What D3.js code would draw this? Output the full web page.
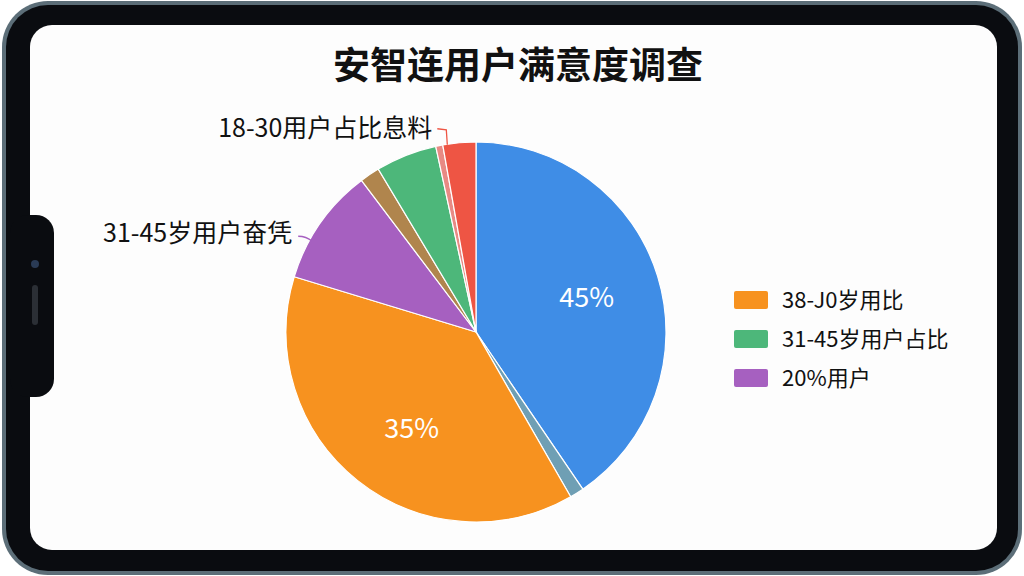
<!DOCTYPE html>
<html><head><meta charset="utf-8">
<script src="https://cdn.jsdelivr.net/npm/d3@7"></script>
<style>body{margin:0;background:#fff}svg{display:block}</style>
</head><body>
<svg id="c" width="1024" height="576"></svg>
<script>
const title = "安智连用户满意度调查";
const sliceNames = ["蓝","灰","橙","紫","棕","绿","粉","红"];
const sliceValues = [40.5, 1.2, 38, 10, 1.7, 5.2, 0.6, 2.8];
const sliceColors = ["#3f8de6","#6f9fb4","#f7921f","#a660c0","#b0854d","#4db77a","#e88a84","#ee5544"];
const innerLabels = ["45%", null, "35%", null, null, null, null, null];
const outerLabels = [null, null, null, "31-45岁用户奋凭", null, null, null, "18-30用户占比息料"];
const legendNames = ["38-J0岁用比", "31-45岁用户占比", "20%用户"];
const legendColors = ["#f7921f", "#4db77a", "#a660c0"];

const svg = d3.select("#c");
// tablet frame
svg.append("rect").attr("x",2).attr("y",1).attr("width",1020).attr("height",574).attr("rx",46)
  .attr("fill","#5c6e78");
svg.append("rect").attr("x",6).attr("y",5).attr("width",1012).attr("height",566).attr("rx",42)
  .attr("fill","#0a0c10");
svg.append("rect").attr("x",30).attr("y",25).attr("width",967).attr("height",525).attr("rx",22)
  .attr("fill","#fdfdfd");
// left notch
svg.append("rect").attr("x",10).attr("y",215).attr("width",44).attr("height",182).attr("rx",18)
  .attr("fill","#0a0c10");
svg.append("circle").attr("cx",35).attr("cy",264).attr("r",4).attr("fill","#2a3b55");
svg.append("rect").attr("x",32).attr("y",285).attr("width",6).attr("height",40).attr("rx",3).attr("fill","#2b2f35");

svg.append("text").attr("x",518).attr("y",79).attr("text-anchor","middle")
  .attr("font-family","Noto Sans CJK SC").attr("font-weight","bold").attr("font-size",37)
  .attr("fill","#111").text(title);

const cx = 476, cy = 332, r = 190;
const g = svg.append("g").attr("transform",`translate(${cx},${cy})`);
const pie = d3.pie().sort(null).value(d=>d)(sliceValues);
const arc = d3.arc().innerRadius(0).outerRadius(r);
g.selectAll("path").data(pie).join("path").attr("d",arc)
  .attr("fill",(d,i)=>sliceColors[i]).attr("stroke","#fff").attr("stroke-width",1.2);

const inArc = d3.arc().innerRadius(r*0.61).outerRadius(r*0.61);
g.selectAll("text.in").data(pie.filter((d,i)=>innerLabels[i])).join("text")
  .attr("class","in")
  .attr("transform",d=>{
    const c = inArc.centroid({startAngle:d.startAngle, endAngle:d.endAngle - (d.index===2?0.17:0)});
    return `translate(${c})`;
  })
  .attr("text-anchor","middle").attr("dy","0.35em")
  .attr("font-family","Noto Sans CJK SC").attr("font-size",27).attr("fill","#fff")
  .text(d=>innerLabels[d.index]);

// outer labels
pie.forEach((d,i)=>{
  if(!outerLabels[i]) return;
  const a = (d.startAngle+d.endAngle)/2;
  const px = Math.sin(a)*r, py = -Math.cos(a)*r;
  const t = g.append("text").attr("text-anchor","end")
      .attr("font-family","Noto Sans CJK SC").attr("font-size",25).attr("fill","#111")
      .text(outerLabels[i]);
  if(i===7){
    g.append("path").attr("d",`M${px-12},${py+2} L${px-13},${py-13} L${px-22},${py-14}`)
      .attr("fill","none").attr("stroke",sliceColors[i]).attr("stroke-width",1.3);
    t.attr("x",px-27).attr("y",py-6);
  } else {
    g.append("path").attr("d",`M${px-8},${py+18} Q${px-14},${py+13} ${px-22},${py+13}`)
      .attr("fill","none").attr("stroke",sliceColors[i]).attr("stroke-width",1.3);
    t.attr("x",px-28).attr("y",py+19);
  }
});

// legend
const ly = d3.scalePoint().domain(legendNames).range([300,378]);
const lg = svg.append("g");
legendNames.forEach((n,i)=>{
  lg.append("rect").attr("x",734).attr("y",ly(n)-9).attr("width",34).attr("height",18).attr("rx",2)
    .attr("fill",legendColors[i]);
  lg.append("text").attr("x",782).attr("y",ly(n)).attr("dy","0.36em")
    .attr("font-family","Noto Sans CJK SC").attr("font-size",22).attr("fill","#111").text(n);
});
</script>
</body></html>
